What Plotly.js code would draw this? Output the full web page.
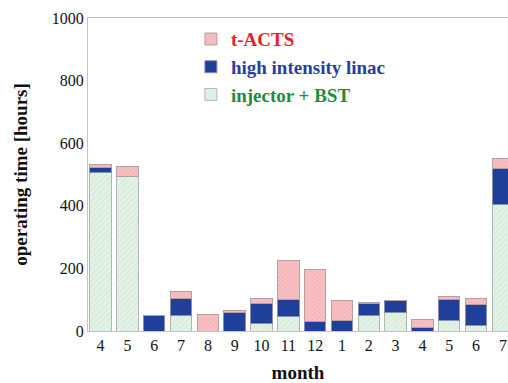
<!DOCTYPE html>
<html>
<head>
<meta charset="utf-8">
<script src="https://cdn.plot.ly/plotly-3.0.1.min.js"></script>
<style>html,body{margin:0;padding:0;background:#fff;}#chart{width:508px;height:383px;}</style>
</head>
<body>
<div id="chart"></div>
<script>
var months = ["4","5","6","7","8","9","10","11","12","1","2","3","4","5","6","7"];
var injectorBST = [505, 493, 0, 51, 0, 0, 25, 46, 0, 0, 51, 60, 0, 32, 17, 404];
var highIntensityLinac = [16, 0, 49, 53, 0, 60, 63, 55, 30, 35, 37, 39, 11, 69, 67, 114];
var tACTS = [11, 32, 0, 22, 54, 6, 15, 124, 166, 63, 4, 0, 26, 10, 20, 33];
var yTicks = [0, 200, 400, 600, 800, 1000];

var idx = months.map(function(_, i){ return i; });
var serif = "Liberation Serif";

var traces = [
  {
    type: "bar", x: idx, y: injectorBST,
    name: '<span style="color:#1e8c3c">injector + BST</span>',
    marker: {color: "#dcefe0", line: {color: "#b4b4b4", width: 1},
             pattern: {shape: "/", fgcolor: "#c3dcc9", bgcolor: "#e2f2e5", size: 4, solidity: 0.15}},
    width: 0.8
  },
  {
    type: "bar", x: idx, y: highIntensityLinac,
    name: '<span style="color:#2a3f9c">high intensity linac</span>',
    marker: {color: "#1f3f99", line: {color: "#8a8fae", width: 1}},
    width: 0.8
  },
  {
    type: "bar", x: idx, y: tACTS,
    name: '<span style="color:#e8202a">t-ACTS</span>',
    marker: {color: "#f7b9bc", line: {color: "#b4a0a0", width: 1},
             pattern: {shape: "x", fgcolor: "#eca6aa", bgcolor: "#f8c2c4", size: 3, solidity: 0.3}},
    width: 0.8
  }
];

var layout = {
  width: 508, height: 383,
  barmode: "stack",
  paper_bgcolor: "#fff", plot_bgcolor: "#fff",
  margin: {l: 88, r: 0, t: 18, b: 52},
  font: {family: serif, color: "#111", size: 16},
  showlegend: true,
  legend: {
    x: 0.245, y: 0.993, xanchor: "left", yanchor: "top",
    traceorder: "reversed",
    font: {family: serif, size: 19, weight: "bold"},
    bgcolor: "rgba(0,0,0,0)", tracegroupgap: 0, itemwidth: 30
  },
  xaxis: {
    tickmode: "array", tickvals: idx, ticktext: months,
    range: [-0.47, 15.19],
    showline: true, linecolor: "#c4c4c4", linewidth: 1, mirror: true,
    ticks: "", showgrid: false, zeroline: false,
    tickfont: {family: serif, size: 16, color: "#111"},
    title: {text: "month", font: {family: serif, size: 19, weight: "bold", color: "#111"}, standoff: 15}
  },
  yaxis: {
    range: [0, 1000], tickvals: yTicks,
    showline: true, linecolor: "#c4c4c4", linewidth: 1, mirror: true,
    ticks: "", showgrid: false, zeroline: false,
    tickfont: {family: serif, size: 16, color: "#111"},
    title: {text: "operating time [hours]", font: {family: serif, size: 19, weight: "bold", color: "#111"}, standoff: 19}
  }
};

Plotly.newPlot("chart", traces, layout, {displayModeBar: false, staticPlot: true});
</script>
</body>
</html>
